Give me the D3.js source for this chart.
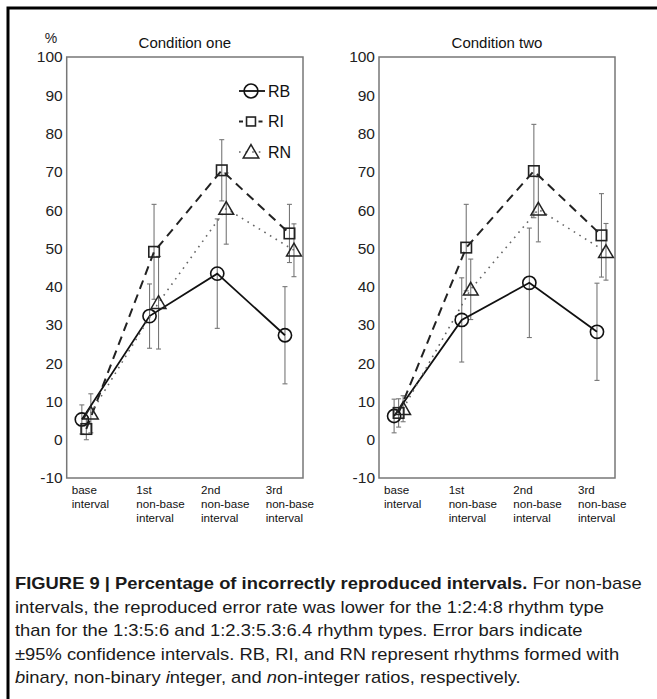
<!DOCTYPE html>
<html><head><meta charset="utf-8">
<script src="https://cdn.jsdelivr.net/npm/d3@7"></script>
<style>body{margin:0;background:#fff}svg{display:block}</style>
</head><body><svg id="c" width="657" height="699"></svg>
<script>
const categoryLabels = [["base","interval"],["1st","non-base","interval"],["2nd","non-base","interval"],["3rd","non-base","interval"]];
const yTicks = [-10,0,10,20,30,40,50,60,70,80,90,100];
const seriesNames = ["RB","RI","RN"];
const titles = ["Condition one","Condition two"];
// Condition one
const c1RB = [5.3, 32.3, 43.4, 27.3], c1RBerr = [3.8, 8.4, 14.3, 12.7];
const c1RI = [2.8, 49.1, 70.4, 53.9], c1RIerr = [2.8, 12.4, 8.0, 7.6];
const c1RN = [6.9, 35.8, 60.4, 49.5], c1RNerr = [5.1, 12.1, 9.3, 6.9];
// Condition two
const c2RB = [6.2, 31.3, 41.0, 28.2], c2RBerr = [4.4, 11.0, 14.3, 12.7];
const c2RI = [7.0, 50.2, 70.2, 53.4], c2RIerr = [3.7, 11.3, 12.2, 10.9];
const c2RN = [8.1, 39.3, 60.2, 49.1], c2RNerr = [3.4, 7.9, 8.5, 7.4];
const captionLines = [
  [["FIGURE 9 | Percentage of incorrectly reproduced intervals.","b"],[" For non-base","n"]],
  [["intervals, the reproduced error rate was lower for the 1:2:4:8 rhythm type","n"]],
  [["than for the 1:3:5:6 and 1:2.3:5.3:6.4 rhythm types. Error bars indicate","n"]],
  [["\u00B195% confidence intervals. RB, RI, and RN represent rhythms formed with","n"]],
  [["b","i"],["inary, non-binary ","n"],["i","i"],["nteger, and ","n"],["n","i"],["on-integer ratios, respectively.","n"]]
];

const svg = d3.select("#c");
svg.append("rect").attr("x",8).attr("y",8).attr("width",720).attr("height",740)
  .attr("fill","none").attr("stroke","#000").attr("stroke-width",3);

const FONT = "Liberation Sans, Arial, Helvetica, sans-serif";
const panels = [
  {x0:66.7, x1:303, title:titles[0], data:{RB:[c1RB,c1RBerr],RI:[c1RI,c1RIerr],RN:[c1RN,c1RNerr]}, legend:true, pct:true},
  {x0:379, x1:615, title:titles[1], data:{RB:[c2RB,c2RBerr],RI:[c2RI,c2RIerr],RN:[c2RN,c2RNerr]}, legend:false, pct:false}
];
const y = d3.scaleLinear().domain([-10,100]).range([478,57]);
const offs = {RB:-4.5, RI:0, RN:4.5};
const styles = {
  RB:{dash:null, w:1.8, col:"#111"},
  RI:{dash:"9,6", w:2, col:"#222"},
  RN:{dash:"1.6,5", w:1.6, col:"#666"}
};

function marker(g, name, cx, cy, size){
  if(name==="RB"){
    g.append("circle").attr("cx",cx).attr("cy",cy).attr("r",6.6*size)
      .attr("fill","none").attr("stroke","#111").attr("stroke-width",1.6);
  } else if(name==="RI"){
    const s = 10.5*size;
    g.append("rect").attr("x",cx-s/2).attr("y",cy-s/2).attr("width",s).attr("height",s)
      .attr("fill","none").attr("stroke","#222").attr("stroke-width",1.6);
  } else {
    const sym = d3.symbol().type(d3.symbolTriangle).size(95*size*size);
    g.append("path").attr("d",sym()).attr("transform",`translate(${cx},${cy+1.5})`)
      .attr("fill","none").attr("stroke","#222").attr("stroke-width",1.5);
  }
}

panels.forEach(p=>{
  const g = svg.append("g");
  const x = d3.scaleLinear().domain([-0.29,3.2]).range([p.x0,p.x1]);
  const xl = d3.scaleLinear().domain([0,3]).range([p.x0+5,p.x0+199]);
  // frame
  g.append("rect").attr("x",p.x0).attr("y",y(100)).attr("width",p.x1-p.x0).attr("height",y(-10)-y(100))
    .attr("fill","none").attr("stroke","#777").attr("stroke-width",1.5);
  // y tick labels
  const ya = d3.axisLeft(y).tickValues(yTicks).tickSize(0).tickPadding(4).tickFormat(d=>String(d));
  const yg = g.append("g").attr("transform",`translate(${p.x0},0)`).call(ya);
  yg.select(".domain").remove();
  yg.selectAll("text").attr("font-family",FONT).attr("font-size",15.5).attr("fill","#222");
  // title
  g.append("text").attr("x",(p.x0+p.x1)/2).attr("y",48).attr("text-anchor","middle")
    .attr("font-family",FONT).attr("font-size",15).attr("fill","#111").text(p.title);
  if(p.pct) g.append("text").attr("x",51).attr("y",43).attr("text-anchor","middle")
    .attr("font-family",FONT).attr("font-size",14).attr("fill","#222").text("%");
  // x labels
  categoryLabels.forEach((lines,i)=>{
    const t = g.append("text").attr("font-family",FONT).attr("font-size",11.6).attr("fill","#111");
    lines.forEach((s,k)=>{
      t.append("tspan").attr("x",xl(i)).attr("y",494+k*14).text(s);
    });
  });
  // error bars
  seriesNames.forEach(n=>{
    const [vals, errs] = p.data[n];
    vals.forEach((v,i)=>{
      const cx = x(i)+offs[n], e = errs[i];
      g.append("line").attr("x1",cx).attr("x2",cx).attr("y1",y(v+e)).attr("y2",y(v-e))
        .attr("stroke","#777").attr("stroke-width",1.1);
      [v+e, v-e].forEach(t=>g.append("line").attr("x1",cx-2.5).attr("x2",cx+2.5).attr("y1",y(t)).attr("y2",y(t))
        .attr("stroke","#777").attr("stroke-width",1.1));
    });
  });
  // lines
  seriesNames.forEach(n=>{
    const [vals] = p.data[n];
    const line = d3.line().x((d,i)=>x(i)+offs[n]).y(d=>y(d));
    const st = styles[n];
    g.append("path").attr("d",line(vals)).attr("fill","none").attr("stroke",st.col)
      .attr("stroke-width",st.w).attr("stroke-dasharray",st.dash);
  });
  // markers
  seriesNames.forEach(n=>{
    const [vals] = p.data[n];
    vals.forEach((v,i)=>marker(g,n,x(i)+offs[n],y(v),1));
  });
  // legend
  if(p.legend){
    seriesNames.forEach((n,k)=>{
      const ly = 91 + k*30.5, lx0 = 239, lx1 = 265, cx = 251;
      const st = styles[n];
      g.append("line").attr("x1",lx0).attr("x2",lx1).attr("y1",ly).attr("y2",ly)
        .attr("stroke",st.col).attr("stroke-width",st.w)
        .attr("stroke-dasharray", n==="RI" ? "4,3.5,0,12,4,3" : st.dash);
      marker(g,n,cx,ly, n==="RI"?0.85:1.05);
      g.append("text").attr("x",268).attr("y",ly+5.5).attr("font-family",FONT).attr("font-size",16)
        .attr("fill","#111").text(n);
    });
  }
});

// caption
const cap = svg.append("g");
const nodes = [];
captionLines.forEach((parts,k)=>{
  const t = cap.append("text").attr("font-family",FONT).attr("font-size",16).attr("fill","#1a1a1a");
  parts.forEach(([s,sty])=>{
    const ts = t.append("tspan").text(s);
    if(sty==="b") ts.attr("font-weight","bold");
    if(sty==="i") ts.attr("font-style","italic");
  });
  nodes.push([t,k]);
});
const w0 = nodes[0][0].node().getComputedTextLength();
const kx = 627 / w0;
nodes.forEach(([t,k])=>{
  t.attr("transform",`translate(15,${589 + k*23.5}) scale(${kx},1)`);
});
</script></body></html>
